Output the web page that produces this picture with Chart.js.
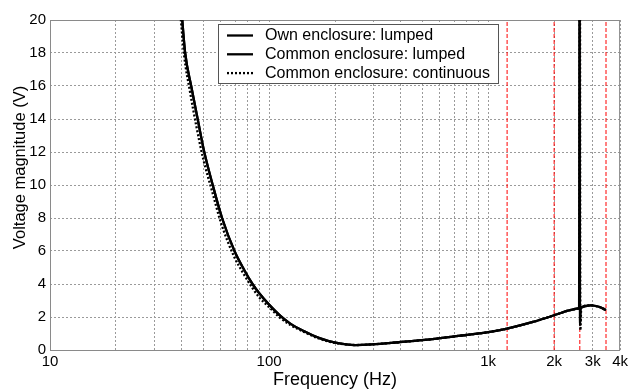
<!DOCTYPE html>
<html>
<head>
<meta charset="utf-8">
<script src="https://cdn.jsdelivr.net/npm/chart.js@4/dist/chart.umd.min.js"></script>
<style>html,body{margin:0;padding:0;background:#fff}canvas{display:block}</style>
</head>
<body>
<canvas id="c" width="631" height="389"></canvas>
<script>
// ---------- data ----------
const seriesNames = ['Own enclosure: lumped', 'Common enclosure: lumped', 'Common enclosure: continuous'];

const freqOwn = [39.6, 41.4, 44.1, 47.2, 50.6, 55.3, 61, 69.5, 77, 84, 90, 100, 113, 125, 144, 170, 201, 248, 295, 390, 515, 731, 1035, 1220, 1600, 2080, 2310, 2570, 2940, 3200, 3450];
const voltOwn = [21.0, 18, 16, 14, 12, 10, 8, 6, 4.85, 4.0, 3.45, 2.75, 2.05, 1.6, 1.15, 0.72, 0.44, 0.3, 0.34, 0.47, 0.61, 0.85, 1.11, 1.3, 1.7, 2.18, 2.38, 2.52, 2.71, 2.62, 2.42];

const freqCommonLumped = [39.6, 41.4, 44.1, 47.2, 50.6, 55.3, 61, 69.5, 77, 84, 90, 100, 113, 125, 144, 170, 201, 248, 295, 390, 515, 731, 1035, 1220, 1600, 2080, 2310, 2570, 2600, 2612, 2625, 2650, 2940, 3200, 3450];
const voltCommonLumped = [21.0, 18, 16, 14, 12, 10, 8, 6, 4.85, 4.0, 3.45, 2.75, 2.05, 1.6, 1.15, 0.72, 0.44, 0.3, 0.34, 0.47, 0.61, 0.85, 1.11, 1.3, 1.7, 2.18, 2.38, 2.52, 2.55, 30, 1.5, 2.58, 2.71, 2.62, 2.42];

const freqCommonCont = [39, 41, 43.5, 46.5, 50, 55, 60, 69, 77, 84, 90, 100, 113, 125, 144, 170, 201, 248, 295, 390, 515, 731, 1035, 1220, 1600, 2080, 2310, 2570, 2605, 2620, 2635, 2660, 2940, 3200, 3450];
const voltCommonCont = [21.0, 17.8, 15.7, 13.6, 11.6, 9.6, 7.8, 5.7, 4.55, 3.75, 3.2, 2.6, 1.92, 1.52, 1.1, 0.68, 0.42, 0.3, 0.34, 0.47, 0.61, 0.85, 1.11, 1.3, 1.7, 2.18, 2.38, 2.5, 2.53, 30, 1.2, 2.58, 2.71, 2.62, 2.42];

const markerFreqs = [1220, 2000, 2620, 3450];

const xTickValues = [10, 20, 30, 40, 50, 60, 70, 80, 90, 100, 200, 300, 400, 500, 600, 700, 800, 900, 1000, 2000, 3000, 4000];
const xLabelValues = [10, 100, 1000, 2000, 3000, 4000];
const xLabelTexts = ['10', '100', '1k', '2k', '3k', '4k'];
const yMin = 0, yMax = 20, yStep = 2;

// ---------- build ----------
const FONT = "'Liberation Sans', Arial, sans-serif";
const pts = (fx, fy) => fx.map((f, i) => ({ x: f, y: fy[i] }));

const datasets = [
  { label: seriesNames[0], data: pts(freqOwn, voltOwn), borderColor: '#000', borderWidth: 2.3, inLegend: true },
  { label: seriesNames[1], data: pts(freqCommonLumped, voltCommonLumped), borderColor: '#000', borderWidth: 2.3, inLegend: true },
  { label: seriesNames[2], data: pts(freqCommonCont, voltCommonCont), borderColor: '#000', borderWidth: 2.3, borderDash: [2, 2], inLegend: true }
].map(d => Object.assign({ pointRadius: 0, fill: false, cubicInterpolationMode: 'monotone' }, d));

markerFreqs.forEach(f => datasets.push({
  label: 'marker', data: [{ x: f, y: yMin }, { x: f, y: yMax }],
  borderColor: '#ff0000', borderWidth: 1, borderDash: [4, 2], pointRadius: 0, fill: false, inLegend: false
}));

const framePlugin = {
  id: 'frame',
  beforeDatasetsDraw(chart) {
    const { ctx, chartArea: a } = chart;
    ctx.save();
    ctx.strokeStyle = '#8a8a8a';
    ctx.lineWidth = 1;
    ctx.setLineDash([]);
    ctx.strokeRect(a.left + 0.5, a.top + 0.5, a.width - 1, a.height);
    ctx.restore();
  }
};

const yTitlePlugin = {
  id: 'yTitle',
  afterDraw(chart) {
    const ctx = chart.ctx;
    ctx.save();
    ctx.translate(25, 167.5);
    ctx.rotate(-Math.PI / 2);
    ctx.font = '16.5px ' + FONT;
    ctx.fillStyle = '#000';
    ctx.textAlign = 'center';
    ctx.textBaseline = 'alphabetic';
    ctx.fillText('Voltage magnitude (V)', 0, 0);
    ctx.restore();
  }
};

const boxLegendPlugin = {
  id: 'boxLegend',
  afterDraw(chart) {
    const { ctx, chartArea: a } = chart;
    const items = chart.data.datasets.filter(d => d.inLegend);
    const left = a.left + 168, top = a.top + 4, w = 280, h = 59;
    ctx.save();
    ctx.fillStyle = '#fff';
    ctx.fillRect(left, top, w, h);
    ctx.strokeStyle = '#555';
    ctx.lineWidth = 1;
    ctx.setLineDash([]);
    ctx.strokeRect(left + 0.5, top + 0.5, w, h);
    ctx.font = '16px ' + FONT;
    ctx.textBaseline = 'middle';
    ctx.textAlign = 'left';
    items.forEach((d, i) => {
      const y = top + 11.5 + i * 18.8;
      ctx.beginPath();
      ctx.strokeStyle = d.borderColor;
      ctx.lineWidth = d.borderWidth;
      ctx.setLineDash(d.borderDash || []);
      ctx.moveTo(left + 9, y);
      ctx.lineTo(left + 35, y);
      ctx.stroke();
      ctx.setLineDash([]);
      ctx.fillStyle = '#000';
      ctx.fillText(d.label, left + 47, y + 0.5);
    });
    ctx.restore();
  }
};

new Chart(document.getElementById('c'), {
  type: 'line',
  data: { datasets },
  options: {
    responsive: false,
    animation: false,
    layout: { padding: { top: 20, right: 10, left: 0, bottom: 0 } },
    plugins: { legend: { display: false }, tooltip: { enabled: false } },
    scales: {
      x: {
        type: 'logarithmic', min: 10, max: 4000,
        afterBuildTicks: s => { s.ticks = xTickValues.map(v => ({ value: v })); },
        afterFit: s => { s.height = 39; },
        ticks: {
          autoSkip: false, maxRotation: 0, minRotation: 0, padding: 3, color: '#000',
          font: { family: FONT, size: 15 },
          callback: v => { const i = xLabelValues.indexOf(v); return i >= 0 ? xLabelTexts[i] : ''; }
        },
        grid: { color: '#9a9a9a', lineWidth: 1, drawTicks: false },
        border: { display: false, dash: [2, 2] },
        title: { display: true, text: 'Frequency (Hz)', color: '#000', font: { family: FONT, size: 18 }, padding: { top: 0, bottom: -2 } }
      },
      y: {
        min: yMin, max: yMax,
        afterFit: s => { s.width = 50; },
        ticks: { stepSize: yStep, padding: 4, color: '#000', font: { family: FONT, size: 15 } },
        grid: { color: '#9a9a9a', lineWidth: 1, drawTicks: false },
        border: { display: false, dash: [2, 2] }
      }
    }
  },
  plugins: [framePlugin, yTitlePlugin, boxLegendPlugin]
});
</script>
</body>
</html>
